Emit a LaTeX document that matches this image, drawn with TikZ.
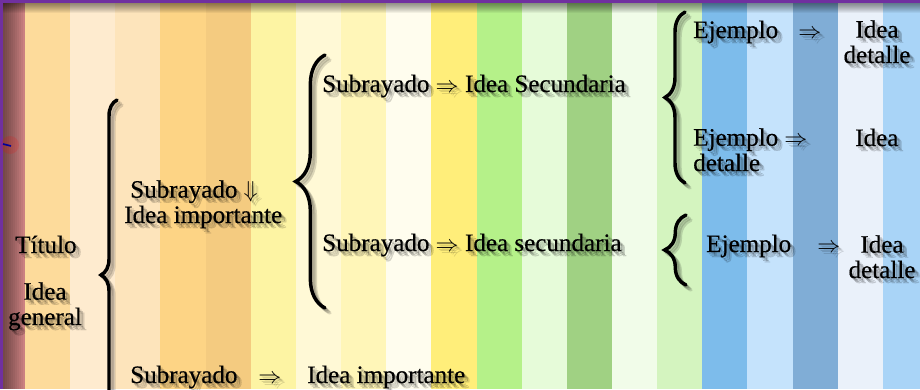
\documentclass[tikz,border=0pt]{standalone}
\usepackage{fontspec}
\setmainfont{Liberation Serif}[FakeBold=0.5]
\usetikzlibrary{decorations.pathreplacing}
\definecolor{borde}{HTML}{7030A0}
\definecolor{rosa}{HTML}{D88888}
\definecolor{f1}{HTML}{FDDB9B}
\definecolor{f2}{HTML}{FEEBCF}
\definecolor{f3}{HTML}{FDE4BB}
\definecolor{f4}{HTML}{FDD485}
\definecolor{f5}{HTML}{F4CB80}
\definecolor{f6}{HTML}{FDF4A3}
\definecolor{f7}{HTML}{FFF9D6}
\definecolor{f8}{HTML}{FFF6B8}
\definecolor{f9}{HTML}{FFFDEE}
\definecolor{f10}{HTML}{FFEE7A}
\definecolor{f11}{HTML}{B5F189}
\definecolor{f12}{HTML}{E6FBD9}
\definecolor{f13}{HTML}{A0D183}
\definecolor{f14}{HTML}{F1FCE9}
\definecolor{f15}{HTML}{D4F4BF}
\definecolor{f16}{HTML}{7DBCEB}
\definecolor{f17}{HTML}{C5E3FC}
\definecolor{f18}{HTML}{80ADD6}
\definecolor{f19}{HTML}{EAF1FA}
\definecolor{f20}{HTML}{A9D4F7}
\tikzset{
  texto/.style={inner sep=0pt, font=\fontsize{18.8pt}{19pt}\selectfont},
  llave/.style={decorate, decoration={brace, amplitude=#1}, line width=2.6pt, line cap=round},
  sombra/.style={opacity=.14, text=black},
  sombrallave/.style={opacity=.14, draw=black},
}
% rotulo con sombra: opciones, nombre, posicion, texto
\newcommand\rotulo[4]{%
  \foreach \d in {2,3.5,5}
    \node[texto,#1,sombra] at ([shift={(\d,\d)}]#3) {#4};
  \node[texto,#1] (#2) at (#3) {#4};}
% llave con sombra: amplitud, inicio, fin
\newcommand\llaves[3]{%
  \foreach \d in {2,3.5,5}
    \draw[llave=#1,sombrallave,shift={(\d,\d)}] (#2) -- (#3);
  \draw[llave=#1] (#2) -- (#3);}
\begin{document}
\begin{tikzpicture}[x=0.75pt,y=-0.75pt]
\useasboundingbox (0,0) rectangle (920,389);
\clip (0,0) rectangle (920,389);
% franjas de fondo
\fill[rosa] (0,0) rectangle (25,389);
\foreach \c [count=\i from 0] in {f1,f2,f3,f4,f5,f6,f7,f8,f9,f10,f11,f12,f13,f14,f15,f16,f17,f18,f19,f20}
  \fill[\c] ({25+45.15*\i},0) rectangle ++(45.15,389);
% bordes
\fill[borde] (0,0) rectangle (920,3);
\fill[borde] (0,0) rectangle (3,389);
\foreach \k in {1,...,10} \fill[black,opacity=.05] (3,3) rectangle (920,{3+\k});
\foreach \k in {1,...,11} \fill[black,opacity=.05] (3,3) rectangle ({3+2*\k},389);
\fill[red,opacity=.15] (10,145) circle (9);
\draw[blue!60!black,line width=1.2pt] (3,144) -- (11,146);
% textos
\rotulo{anchor=base west}{titulo}{15,253}{Título}
\rotulo{align=center,anchor=base}{general}{45,325}{Idea\\general}
\rotulo{align=left,anchor=base west}{imp}{124,223}{\hspace*{4.5pt}Subrayado $\Downarrow$\\Idea importante}
\rotulo{anchor=base west}{sec1}{322,92}{Subrayado $\Rightarrow$ Idea Secundaria}
\rotulo{anchor=base west}{sec2}{322,251}{Subrayado $\Rightarrow$ Idea secundaria}
\rotulo{anchor=base west}{sub3}{130,383}{Subrayado}
\rotulo{anchor=base west}{fl3}{258,383}{$\Rightarrow$}
\rotulo{anchor=base west}{imp3}{307,383}{Idea importante}
\rotulo{anchor=base west}{ej1}{693,38}{Ejemplo}
\rotulo{anchor=base west}{fl1}{798,38}{$\Rightarrow$}
\rotulo{align=center,anchor=base}{det1}{877,63}{Idea\\detalle}
\rotulo{align=left,anchor=base west}{ej2}{693,171}{Ejemplo $\Rightarrow$\\detalle}
\rotulo{anchor=base west}{det2}{855,146}{Idea}
\rotulo{anchor=base west}{ej3}{706,252}{Ejemplo}
\rotulo{anchor=base west}{fl4}{817,252}{$\Rightarrow$}
\rotulo{align=center,anchor=base}{det3}{882,278}{Idea\\detalle}
% llaves
\llaves{12pt}{117,450}{117,100}
\llaves{22pt}{325,308}{325,55}
\llaves{15pt}{685,183}{685,12}
\llaves{16pt}{686,285}{686,215}
\end{tikzpicture}
\end{document}
